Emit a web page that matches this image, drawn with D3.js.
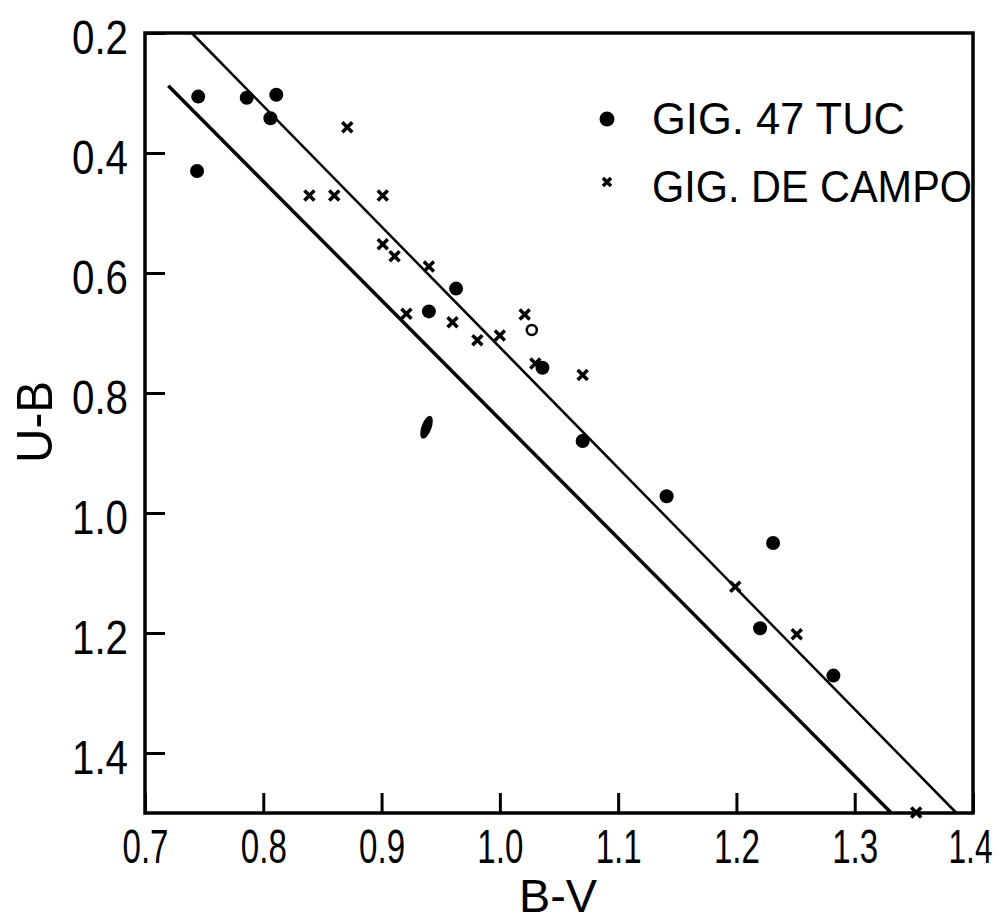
<!DOCTYPE html>
<html>
<head>
<meta charset="utf-8">
<script src="https://cdn.jsdelivr.net/npm/d3@7"></script>
<style>
  body { margin: 0; background: #fff; }
  svg text { font-family: "Liberation Sans", Arial, sans-serif; fill: #000; }
</style>
</head>
<body>
<div id="chart"></div>
<script>
// B-V, U-B
const tucBV = [0.745, 0.786, 0.811, 0.806, 0.744, 0.963, 0.940, 1.036, 1.070, 1.141, 1.231, 1.220, 1.282];
const tucUB = [0.306, 0.308, 0.303, 0.342, 0.430, 0.626, 0.664, 0.758, 0.880, 0.972, 1.050, 1.192, 1.271];

// smeared point near (0.94, 0.86)
const blobBV = [0.938];
const blobUB = [0.857];

const fieldBV = [0.871, 0.839, 0.860, 0.901, 0.901, 0.911, 0.940, 0.921, 0.960, 0.981, 1.000, 1.021, 1.030, 1.070, 1.199, 1.251, 1.352];
const fieldUB = [0.357, 0.471, 0.471, 0.471, 0.552, 0.572, 0.589, 0.668, 0.682, 0.712, 0.704, 0.669, 0.751, 0.770, 1.123, 1.202, 1.499];

const openBV = [1.027];
const openUB = [0.695];

// the two straight lines (end points)
const upperLineBV = [0.7395, 1.386];
const upperLineUB = [0.200, 1.500];
const lowerLineBV = [0.7197, 1.331];
const lowerLineUB = [0.288, 1.500];

const xTicks = [0.7, 0.8, 0.9, 1.0, 1.1, 1.2, 1.3, 1.4];
const yTicks = [0.2, 0.4, 0.6, 0.8, 1.0, 1.2, 1.4];

const legendLabels = ["GIG. 47 TUC", "GIG. DE CAMPO"];

const W = 1000, H = 923;
const margin = { left: 145, right: 973, top: 33, bottom: 813 };

const svg = d3.select("#chart").append("svg")
    .attr("width", W)
    .attr("height", H);

const x = d3.scaleLinear().domain([0.7, 1.4]).range([margin.left, margin.right]);
const y = d3.scaleLinear().domain([0.2, 1.5]).range([margin.top, margin.bottom]);

const zip = (a, b) => a.map((v, i) => [v, b[i]]);

// axes: inward ticks, labels outside
const xAxis = svg.append("g")
    .attr("transform", `translate(0,${margin.bottom})`)
    .call(d3.axisBottom(x).tickValues(xTicks).tickSize(-20).tickFormat(d3.format(".1f")));
xAxis.select(".domain").remove();
xAxis.selectAll("line").attr("stroke", "#000").attr("stroke-width", 3);
xAxis.selectAll("text")
    .attr("y", 50)
    .attr("dy", 0)
    .style("font-size", "48px")
    .attr("textLength", 46)
    .attr("lengthAdjust", "spacingAndGlyphs");
// last label sits against the right edge of the page
xAxis.selectAll("text")
    .filter(d => d === 1.4)
    .attr("text-anchor", "end")
    .attr("x", 19)
    .attr("textLength", 44);

const yAxis = svg.append("g")
    .attr("transform", `translate(${margin.left},0)`)
    .call(d3.axisLeft(y).tickValues(yTicks).tickSize(-20).tickPadding(17).tickFormat(d3.format(".1f")));
yAxis.select(".domain").remove();
yAxis.selectAll("line").attr("stroke", "#000").attr("stroke-width", 3);
yAxis.selectAll("text")
    .attr("dy", 20)
    .style("font-size", "48px")
    .attr("textLength", 56)
    .attr("lengthAdjust", "spacingAndGlyphs");

// frame
svg.append("rect")
    .attr("x", margin.left).attr("y", margin.top)
    .attr("width", margin.right - margin.left).attr("height", margin.bottom - margin.top)
    .attr("fill", "none")
    .attr("stroke", "#000")
    .attr("stroke-width", 3.5);

// axis titles
svg.append("text")
    .attr("x", x(1.05) - 1)
    .attr("y", 912)
    .attr("text-anchor", "middle")
    .style("font-size", "47px")
    .attr("textLength", 78)
    .attr("lengthAdjust", "spacingAndGlyphs")
    .text("B-V");

svg.append("text")
    .attr("transform", "translate(52,422) rotate(-90)")
    .attr("text-anchor", "middle")
    .style("font-size", "50px")
    .attr("textLength", 82)
    .attr("lengthAdjust", "spacingAndGlyphs")
    .text("U-B");

// fitted lines
const line = d3.line().x(d => x(d[0])).y(d => y(d[1]));
svg.append("path")
    .datum(zip(lowerLineBV, lowerLineUB))
    .attr("d", line)
    .attr("fill", "none")
    .attr("stroke", "#000")
    .attr("stroke-width", 3.5);
svg.append("path")
    .datum(zip(upperLineBV, upperLineUB))
    .attr("d", line)
    .attr("fill", "none")
    .attr("stroke", "#000")
    .attr("stroke-width", 2.5);

// 47 Tuc giants
svg.selectAll(".tuc")
    .data(zip(tucBV, tucUB))
    .enter().append("circle")
    .attr("class", "tuc")
    .attr("cx", d => x(d[0]))
    .attr("cy", d => y(d[1]))
    .attr("r", 7)
    .attr("fill", "#000");

svg.selectAll(".blob")
    .data(zip(blobBV, blobUB))
    .enter().append("ellipse")
    .attr("class", "blob")
    .attr("transform", d => `translate(${x(d[0])},${y(d[1])}) rotate(20)`)
    .attr("rx", 5)
    .attr("ry", 12)
    .attr("fill", "#000");

// field giants
const cross = s => `M${-s},${-s}L${s},${s}M${s},${-s}L${-s},${s}`;
svg.selectAll(".field")
    .data(zip(fieldBV, fieldUB))
    .enter().append("path")
    .attr("class", "field")
    .attr("transform", d => `translate(${x(d[0])},${y(d[1])})`)
    .attr("d", cross(5))
    .attr("stroke", "#000")
    .attr("stroke-width", 3.5);

svg.selectAll(".open")
    .data(zip(openBV, openUB))
    .enter().append("circle")
    .attr("class", "open")
    .attr("cx", d => x(d[0]))
    .attr("cy", d => y(d[1]))
    .attr("r", 5)
    .attr("fill", "#fff")
    .attr("stroke", "#000")
    .attr("stroke-width", 2.5);

// legend
const lg = svg.append("g");
lg.append("circle")
    .attr("cx", 607).attr("cy", 119)
    .attr("r", 7.5)
    .attr("fill", "#000");
lg.append("path")
    .attr("transform", "translate(607,182)")
    .attr("d", cross(4))
    .attr("stroke", "#000")
    .attr("stroke-width", 3.5);
lg.append("text")
    .attr("x", 652).attr("y", 134)
    .style("font-size", "44px")
    .attr("textLength", 253)
    .attr("lengthAdjust", "spacingAndGlyphs")
    .text(legendLabels[0]);
lg.append("text")
    .attr("x", 652).attr("y", 202)
    .style("font-size", "44px")
    .attr("textLength", 320)
    .attr("lengthAdjust", "spacingAndGlyphs")
    .text(legendLabels[1]);
</script>
</body>
</html>
